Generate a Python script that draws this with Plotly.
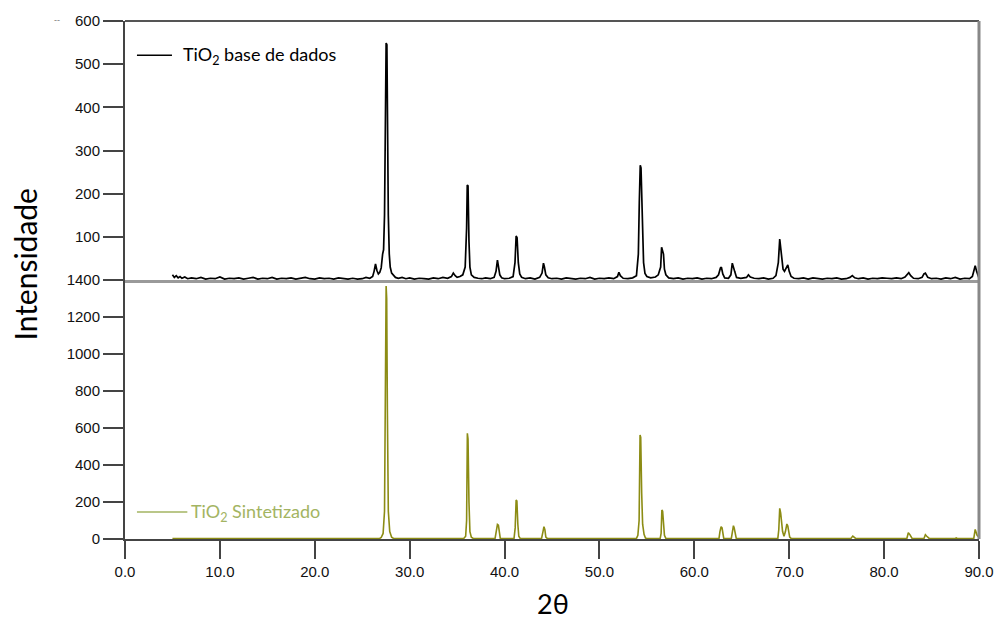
import plotly.graph_objects as go
from plotly.subplots import make_subplots

# ---- TiO2 base de dados (reference pattern) ----
two_theta_ref = [
    5.0, 5.2, 5.4, 5.6, 5.8, 6.0, 6.3, 6.6, 7.0, 7.5, 8.0, 8.5, 9.0, 9.5,
    10.0, 10.5, 11.0, 11.5, 12.0, 12.5, 13.0, 13.5, 14.0, 14.5, 15.0, 15.5,
    16.0, 16.5, 17.0, 17.5, 18.0, 18.5, 19.0, 19.5, 20.0, 20.5, 21.0, 21.5,
    22.0, 22.5, 23.0, 23.5, 24.0, 24.5, 25.0, 25.4, 25.8, 26.1,
    26.25, 26.4, 26.55, 26.7, 26.85, 27.0, 27.15, 27.25, 27.35, 27.45, 27.52,
    27.6, 27.68, 27.75, 27.85, 27.95, 28.1, 28.3, 28.5, 28.8, 29.2, 29.6,
    30.0, 30.5, 31.0, 31.5, 32.0, 32.5, 33.0, 33.5, 34.0, 34.4, 34.6, 34.8,
    35.0, 35.3, 35.6, 35.85, 36.0, 36.07, 36.15, 36.25, 36.35, 36.5, 36.8,
    37.2, 37.6, 38.0, 38.5, 38.9, 39.1, 39.25, 39.35, 39.5, 39.7, 40.0, 40.5,
    40.9, 41.1, 41.22, 41.32, 41.45, 41.6, 41.8, 42.2, 42.7, 43.2, 43.7,
    43.95, 44.1, 44.2, 44.35, 44.6, 45.0, 45.5, 46.0, 46.5, 47.0, 47.5, 48.0,
    48.5, 49.0, 49.5, 50.0, 50.5, 51.0, 51.5, 51.9, 52.05, 52.2, 52.5, 53.0,
    53.5, 53.9, 54.1, 54.2, 54.3, 54.38, 54.45, 54.55, 54.65, 54.8, 55.0,
    55.4, 55.9, 56.2, 56.45, 56.55, 56.65, 56.75, 56.85, 57.0, 57.3, 57.8,
    58.3, 58.8, 59.3, 59.8, 60.3, 60.8, 61.3, 61.8, 62.3, 62.55, 62.75, 62.85,
    63.0, 63.2, 63.6, 63.85, 64.0, 64.1, 64.25, 64.45, 64.9, 65.5, 65.7, 65.9,
    66.3, 66.8, 67.3, 67.8, 68.3, 68.6, 68.85, 69.0, 69.1, 69.2, 69.35, 69.5,
    69.7, 69.85, 70.0, 70.2, 70.5, 71.0, 71.5, 72.0, 72.5, 73.0, 73.5, 74.0,
    74.5, 75.0, 75.5, 76.0, 76.4, 76.65, 76.9, 77.3, 77.8, 78.3, 78.8, 79.3,
    79.8, 80.3, 80.8, 81.3, 81.8, 82.2, 82.45, 82.6, 82.8, 83.1, 83.6, 84.0,
    84.2, 84.35, 84.6, 85.0, 85.5, 86.0, 86.5, 87.0, 87.5, 88.0, 88.5, 89.0,
    89.3, 89.5, 89.6, 89.75, 89.9, 90.0,
]
intensity_ref = [
    12, 6, 10, 5, 8, 4, 7, 3, 5, 3, 6, 2, 4, 3,
    7, 2, 4, 3, 5, 2, 4, 6, 2, 4, 3, 6,
    2, 4, 3, 5, 2, 4, 6, 3, 2, 5, 3, 4,
    2, 5, 3, 2, 4, 2, 3, 6, 4, 8,
    20, 37, 22, 14, 18, 28, 60, 70, 150, 420, 549,
    545, 300, 150, 60, 30, 16, 10, 6, 4, 6, 3,
    5, 2, 4, 3, 2, 5, 3, 6, 4, 8, 16, 10,
    6, 8, 12, 30, 120, 220, 218, 90, 30, 12, 6,
    4, 3, 5, 3, 6, 20, 46, 30, 12, 5, 3, 4,
    8, 40, 102, 98, 40, 14, 6, 3, 5, 2, 6,
    16, 39, 30, 12, 5, 3, 4, 2, 5, 3, 2, 4,
    3, 6, 2, 4, 3, 5, 3, 8, 18, 10, 4, 3,
    5, 10, 60, 180, 266, 260, 180, 90, 40, 15, 8,
    5, 7, 12, 30, 76, 70, 60, 25, 12, 5, 3,
    5, 2, 4, 3, 5, 2, 4, 3, 6, 12, 28, 30,
    14, 5, 4, 12, 39, 30, 20, 6, 4, 6, 12, 7,
    4, 3, 5, 2, 4, 10, 40, 95, 70, 55, 25, 20,
    30, 35, 20, 8, 4, 3, 5, 2, 5, 3, 2, 4,
    3, 5, 2, 3, 6, 10, 5, 3, 5, 2, 4, 3,
    5, 4, 3, 5, 3, 7, 15, 17, 10, 4, 3, 6,
    14, 16, 6, 3, 4, 2, 5, 3, 6, 2, 4, 3,
    8, 25, 33, 20, 8, 4,
]

# ---- TiO2 Sintetizado (synthesised sample) ----
two_theta_syn = [
    5.0, 10.0, 20.0, 26.8, 27.0, 27.2, 27.35, 27.45, 27.52, 27.58, 27.65,
    27.75, 27.9, 28.1, 28.3, 35.7, 35.9, 36.0, 36.08, 36.15, 36.25, 36.35,
    36.5, 36.7, 39.0, 39.15, 39.25, 39.35, 39.45, 39.55, 41.0, 41.12, 41.22,
    41.3, 41.4, 41.5, 41.65, 43.9, 44.05, 44.15, 44.25, 44.35, 44.5, 53.9,
    54.05, 54.18, 54.28, 54.35, 54.45, 54.55, 54.7, 54.85, 55.0, 56.4, 56.5,
    56.58, 56.66, 56.74, 56.85, 57.0, 62.6, 62.7, 62.82, 62.92, 63.02, 63.1,
    63.9, 64.0, 64.12, 64.2, 64.3, 64.42, 68.8, 68.9, 69.0, 69.1, 69.2, 69.3,
    69.45, 69.6, 69.75, 69.85, 69.95, 70.05, 70.2, 72.5, 72.65, 72.8, 76.5,
    76.7, 76.9, 77.0, 79.9, 80.0, 80.1, 82.4, 82.55, 82.7, 82.85, 82.95,
    84.2, 84.35, 84.5, 84.65, 84.75, 87.5, 87.6, 87.7, 89.45, 89.6, 89.7,
    89.8, 90.0,
]
intensity_syn = [
    2, 2, 2, 2, 8, 30, 150, 900, 1368, 1300, 700,
    150, 40, 10, 3, 3, 15, 100, 571, 540, 200, 40,
    10, 3, 3, 40, 79, 75, 20, 3, 3, 60, 211,
    205, 80, 15, 3, 3, 40, 67, 50, 10, 3, 3,
    20, 100, 562, 550, 250, 80, 25, 5, 3, 3, 30,
    157, 150, 100, 20, 3, 3, 40, 67, 60, 20, 3,
    3, 40, 72, 60, 40, 3, 3, 50, 166, 140, 90, 40,
    15, 40, 81, 70, 40, 10, 3, 3, 6, 3, 3,
    16, 10, 3, 3, 5, 3, 3, 34, 25, 12, 3,
    3, 23, 15, 8, 3, 3, 6, 3, 3, 52, 40,
    20, 10,
]

x_ticks = [0, 10, 20, 30, 40, 50, 60, 70, 80, 90]
x_tick_labels = ["0.0", "10.0", "20.0", "30.0", "40.0", "50.0", "60.0", "70.0", "80.0", "90.0"]
top_y_ticks = [100, 200, 300, 400, 500, 600]
bottom_y_ticks = [0, 200, 400, 600, 800, 1000, 1200, 1400]

REF_COLOR = "#000000"
SYN_COLOR = "#8c8c14"
SYN_LEGEND_COLOR = "#a3b462"
AXIS = "#444444"
TICK_FONT = dict(family="Liberation Sans, Arial", size=15, color="#111111")
LABEL_FONT = "Lato, Open Sans, sans-serif"

fig = make_subplots(rows=2, cols=1, shared_xaxes=True, vertical_spacing=0)

fig.add_trace(go.Scatter(x=two_theta_ref, y=intensity_ref, mode="lines",
                         line=dict(color=REF_COLOR, width=1.7), showlegend=False), row=1, col=1)
fig.add_trace(go.Scatter(x=two_theta_syn, y=intensity_syn, mode="lines",
                         line=dict(color=SYN_COLOR, width=1.6), showlegend=False), row=2, col=1)

fig.update_xaxes(row=1, col=1, range=[0, 90], showline=True, linecolor="#9a9a9a", linewidth=3,
                 ticks="", showticklabels=False, showgrid=False, zeroline=False, automargin=False)
fig.update_xaxes(row=2, col=1, range=[0, 90], tickvals=x_ticks, ticktext=x_tick_labels,
                 showline=True, linecolor=AXIS, linewidth=2, ticks="outside", ticklen=18,
                 tickwidth=2, tickcolor=AXIS, tickfont=TICK_FONT, showgrid=False, zeroline=False,
                 automargin=False)
fig.update_yaxes(row=1, col=1, range=[0, 600], tickvals=top_y_ticks, showline=True,
                 linecolor=AXIS, linewidth=2, ticks="outside", ticklen=20, tickwidth=2,
                 tickcolor=AXIS, tickfont=TICK_FONT, showgrid=False, zeroline=False,
                 automargin=False)
fig.update_yaxes(row=2, col=1, range=[0, 1400], tickvals=bottom_y_ticks, showline=True,
                 linecolor=AXIS, linewidth=2, ticks="outside", ticklen=20, tickwidth=2,
                 tickcolor=AXIS, tickfont=TICK_FONT, showgrid=False, zeroline=False,
                 automargin=False)

shapes = [
    # top border
    dict(type="line", xref="paper", yref="paper", x0=0, x1=1, y0=1, y1=1,
         line=dict(color="#555555", width=2)),
    # right border
    dict(type="line", xref="paper", yref="paper", x0=1, x1=1, y0=0, y1=1,
         line=dict(color="#888888", width=3)),
    # legend sample lines
    dict(type="line", xref="paper", yref="paper", x0=0.014, x1=0.055, y0=0.934, y1=0.934,
         line=dict(color=REF_COLOR, width=1.5)),
    dict(type="line", xref="paper", yref="paper", x0=0.014, x1=0.073, y0=0.052, y1=0.052,
         line=dict(color=SYN_LEGEND_COLOR, width=1.5)),
]

annotations = [
    dict(text="TiO<sub>2</sub> base de dados", xref="paper", yref="paper", x=0.066, y=0.934,
         xanchor="left", yanchor="middle", showarrow=False,
         font=dict(family=LABEL_FONT, size=18, color="#000000")),
    dict(text="TiO<sub>2</sub> Sintetizado", xref="paper", yref="paper", x=0.075, y=0.052,
         xanchor="left", yanchor="middle", showarrow=False,
         font=dict(family=LABEL_FONT, size=18, color=SYN_LEGEND_COLOR)),
    dict(text="Intensidade", xref="paper", yref="paper", x=-0.117, y=0.530, textangle=-90,
         xanchor="center", yanchor="middle", showarrow=False,
         font=dict(family=LABEL_FONT, size=30, color="#000000")),
    dict(text="2θ", xref="paper", yref="paper", x=0.501, y=-0.124,
         xanchor="center", yanchor="middle", showarrow=False,
         font=dict(family=LABEL_FONT, size=27, color="#000000")),
    dict(text="--", xref="paper", yref="paper", x=-0.0796, y=1.002,
         xanchor="center", yanchor="middle", showarrow=False,
         font=dict(family="Liberation Sans", size=9, color="#777777")),
]

fig.update_layout(width=997, height=623, margin=dict(l=125, r=18, t=21, b=84),
                  paper_bgcolor="white", plot_bgcolor="white", showlegend=False,
                  shapes=shapes, annotations=annotations)

fig.write_html("out.html")
